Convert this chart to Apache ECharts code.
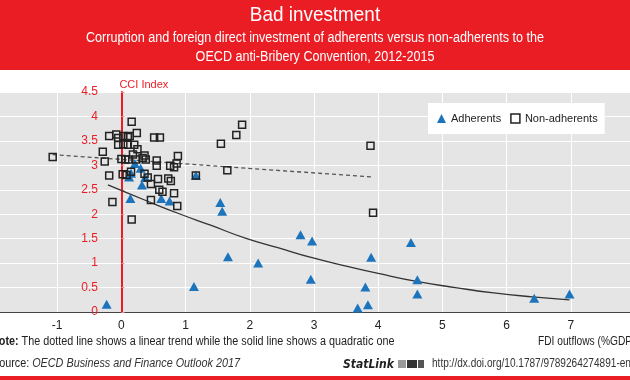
<!DOCTYPE html>
<html><head><meta charset="utf-8">
<script src="https://cdn.jsdelivr.net/npm/echarts@6/dist/echarts.min.js"></script>
<style>html,body{margin:0;padding:0;background:#fff}#c{width:630px;height:380px}</style>
</head><body><div id="c"></div>
<script>
// ---- data ----
const xTicks = [-2, -1, 0, 1, 2, 3, 4, 5, 6, 7, 8];
const yTicks = [0, 0.5, 1, 1.5, 2, 2.5, 3, 3.5, 4, 4.5];

const adherents = [
  [-0.23, 0.16], [0.14, 2.32], [0.32, 2.60], [0.62, 2.32], [0.75, 2.27],
  [0.12, 2.76], [0.15, 2.84], [0.21, 3.04], [0.30, 2.94], [0.37, 2.75],
  [1.16, 2.79], [1.54, 2.24], [1.57, 2.06], [1.66, 1.13], [2.13, 1.00],
  [1.13, 0.52], [2.79, 1.58], [2.97, 1.45], [2.95, 0.67], [3.89, 1.12],
  [3.80, 0.51], [3.68, 0.08], [3.84, 0.15], [4.51, 1.42], [4.61, 0.66],
  [4.61, 0.37], [6.43, 0.28], [6.98, 0.37]
];

const nonAdherents = [
  [-1.07, 3.17], [-0.29, 3.28], [-0.26, 3.08], [-0.19, 2.79], [-0.14, 2.25],
  [-0.19, 3.60], [-0.08, 3.63], [-0.05, 3.56], [0.03, 3.60], [0.10, 3.58],
  [0.13, 3.60], [0.24, 3.66], [0.16, 3.89], [0.51, 3.57], [0.60, 3.57],
  [-0.05, 3.42], [0.03, 3.43], [0.10, 3.42], [0.20, 3.42], [0.25, 3.33],
  [0.18, 3.22], [0.00, 3.13], [0.06, 3.12], [0.11, 3.12], [0.23, 3.12],
  [0.33, 3.15], [0.38, 3.12], [0.36, 3.20], [0.55, 3.10], [0.55, 2.99],
  [0.76, 2.99], [0.82, 2.96], [0.86, 3.04], [0.88, 3.19], [0.02, 2.82],
  [0.08, 2.80], [0.36, 2.83], [0.41, 2.75], [0.57, 2.72], [0.73, 2.73],
  [0.77, 2.68], [0.46, 2.62], [0.59, 2.50], [0.64, 2.46], [0.82, 2.43],
  [0.46, 2.29], [0.87, 2.17], [0.16, 1.89], [1.16, 2.79], [1.55, 3.44],
  [1.65, 2.90], [1.79, 3.62], [1.88, 3.83], [3.88, 3.40], [3.92, 2.03],
  [0.15, 2.87]
];

const linearTrend = [[-1.07, 3.22], [3.92, 2.76]];
const quadraticTrend = [
  [-0.21, 2.60], [0.40, 2.27], [0.90, 2.01], [1.40, 1.77], [1.93, 1.51],
  [2.45, 1.31], [2.97, 1.11], [3.50, 0.94], [4.00, 0.79], [4.62, 0.62],
  [5.20, 0.50], [5.80, 0.39], [6.40, 0.31], [6.98, 0.25]
];

const RED = '#ea1d25';
const FONT = '"Liberation Sans Narrow","Liberation Sans",sans-serif';
const SX = 0.9; // horizontal squeeze to mimic the condensed typeface

function txt(x, y, text, font, fill, align, extra, sx) {
  return {
    type: 'text', x: x, y: y, z: 11, scaleX: sx || SX, originX: 0, originY: 0,
    style: Object.assign({text: text, fill: fill, font: font, textAlign: align || 'left', textVerticalAlign: 'middle'}, extra || {})
  };
}

const chart = echarts.init(document.getElementById('c'), null, {renderer: 'canvas'});
chart.setOption({
  animation: false,
  textStyle: {fontFamily: FONT},
  grid: {left: -7, right: -5, top: 92, bottom: 68, show: true, backgroundColor: '#e5e5e5', borderWidth: 0,
         containLabel: false, outerBoundsMode: 'none'},
  xAxis: {
    type: 'value', min: xTicks[0], max: xTicks[xTicks.length - 1], interval: 1,
    axisLine: {onZero: false, lineStyle: {color: '#444', width: 1}},
    axisTick: {show: false},
    axisLabel: {color: '#222', fontSize: 12, margin: 8, fontFamily: FONT},
    splitLine: {show: true, lineStyle: {color: '#ffffff', width: 1}}
  },
  yAxis: {
    type: 'value', min: yTicks[0], max: yTicks[yTicks.length - 1], interval: 0.5,
    name: 'CCI Index', nameLocation: 'end', nameGap: 2,
    nameTextStyle: {color: RED, fontSize: 11, align: 'left', fontFamily: FONT, padding: [0, 0, 0, -2]},
    axisLine: {onZero: true, lineStyle: {color: RED, width: 2}},
    axisTick: {show: true, inside: true, length: 3, lineStyle: {color: '#f08a8e'}},
    axisLabel: {color: RED, fontSize: 12, margin: -105, align: 'right', fontFamily: FONT},
    splitLine: {show: true, lineStyle: {color: '#ffffff', width: 1}}
  },
  legend: {
    left: 428, top: 103, orient: 'horizontal',
    backgroundColor: '#ffffff', padding: [10, 7, 10, 9], itemGap: 9,
    itemWidth: 9, itemHeight: 9,
    textStyle: {color: '#222', fontSize: 11, fontFamily: FONT},
    data: [
      {name: 'Adherents', icon: 'triangle', itemStyle: {color: '#1c75bc'}},
      {name: 'Non-adherents', icon: 'rect', itemStyle: {color: '#ffffff', borderColor: '#222', borderWidth: 1.5}}
    ]
  },
  series: [
    {
      name: 'Linear trend', type: 'line', data: linearTrend, symbol: 'none', z: 1,
      lineStyle: {color: '#555', width: 1.3, type: [4, 3]}
    },
    {
      name: 'Quadratic trend', type: 'line', data: quadraticTrend, symbol: 'none', smooth: true, z: 1,
      lineStyle: {color: '#333', width: 1.3}
    },
    {
      name: 'Adherents', type: 'scatter', data: adherents, symbol: 'triangle', symbolSize: [10, 9], z: 3,
      itemStyle: {color: '#1c75bc', opacity: 1}
    },
    {
      name: 'Non-adherents', type: 'scatter', data: nonAdherents, symbol: 'rect', symbolSize: 7, z: 4,
      itemStyle: {color: 'rgba(0,0,0,0)', borderColor: '#222', borderWidth: 1.5, opacity: 1}
    }
  ],
  graphic: [
    {type: 'rect', left: 0, top: 0, shape: {width: 630, height: 70}, style: {fill: RED}, z: 10},
    txt(315, 15, 'Bad investment', '21px ' + FONT, '#fff', 'center'),
    txt(315, 38, 'Corruption and foreign direct investment of adherents versus non-adherents to the', '14px ' + FONT, '#fff', 'center'),
    txt(315, 57, 'OECD anti-Bribery Convention, 2012-2015', '14px ' + FONT, '#fff', 'center'),
    txt(538, 342, 'FDI outflows (%GDP)', '12px ' + FONT, '#222', 'left', null, 0.85),
    txt(-9, 342, '{b|Note:} The dotted line shows a linear trend while the solid line shows a quadratic one', '12px ' + FONT, '#222', 'left',
      {rich: {b: {fontWeight: 'bold', fontSize: 12, fontFamily: FONT, fill: '#222'}}}),
    txt(-8, 364, 'Source: {i|OECD Business and Finance Outlook 2017}', '12px ' + FONT, '#222', 'left',
      {rich: {i: {fontStyle: 'italic', fontSize: 12, fontFamily: FONT, fill: '#333'}}}),
    txt(343, 365, 'StatLink', 'italic bold 12px "DejaVu Sans", sans-serif', '#222', 'left'),
    {type: 'group', x: 398, y: 359, z: 11, children: [
      {type: 'rect', shape: {x: 0, y: 1, width: 8, height: 8}, style: {fill: '#999'}},
      {type: 'rect', shape: {x: 9, y: 1, width: 10, height: 8}, style: {fill: '#333'}},
      {type: 'rect', shape: {x: 20, y: 1, width: 6, height: 8}, style: {fill: '#555'}}
    ]},
    txt(432, 364, 'http://dx.doi.org/10.1787/9789264274891-en', '12px ' + FONT, '#333', 'left', null, 0.84),
    {type: 'rect', left: 0, top: 376, shape: {width: 630, height: 4}, style: {fill: RED}, z: 10}
  ]
});
</script></body></html>
